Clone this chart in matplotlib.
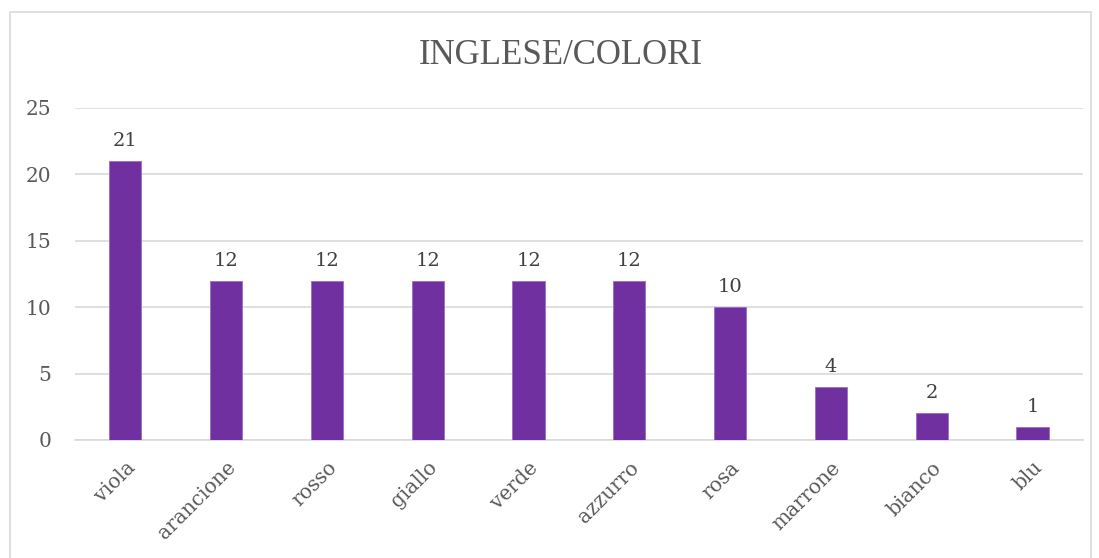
import matplotlib
matplotlib.use("Agg")
import matplotlib.pyplot as plt
from matplotlib.patches import Rectangle

colori = ["viola", "arancione", "rosso", "giallo", "verde",
          "azzurro", "rosa", "marrone", "bianco", "blu"]
valori = [21, 12, 12, 12, 12, 12, 10, 4, 2, 1]
y_ticks = [0, 5, 10, 15, 20, 25]

plt.rcParams['font.family'] = ['DejaVu Serif']

fig = plt.figure(figsize=(10.99, 5.58), dpi=100)
ax = fig.add_axes([0.0682, 0.2115, 0.9172, 0.595])

# chart border
fig.patches.append(Rectangle((0.009, -0.05), 0.984, 1.028, transform=fig.transFigure,
                             fill=False, edgecolor="#d9d9d9", linewidth=1.2))

x = range(len(colori))
ax.bar(x, valori, width=0.32, color="#7030a0", edgecolor="#9b6cc4", linewidth=0.6, zorder=3)

for i, v in enumerate(valori):
    ax.annotate(str(v), (i, v), xytext=(0, 8), textcoords="offset points",
                ha="center", va="bottom", fontsize=14, color="#404040")

ax.set_xlim(-0.5, len(colori) - 0.5)
ax.set_ylim(0, 25)
ax.set_yticks(y_ticks)
ax.yaxis.grid(True, color="#d9d9d9", linewidth=1.2, zorder=0)
for s in ["top", "right", "left"]:
    ax.spines[s].set_visible(False)
ax.spines["bottom"].set_color("#d9d9d9")
ax.spines["bottom"].set_linewidth(1.2)
ax.tick_params(axis="both", length=0, labelsize=14.5, labelcolor="#595959")
ax.tick_params(axis="y", pad=17)
ax.set_xticks(list(x))
ax.set_xticklabels(colori, rotation=45, ha="right", rotation_mode="anchor")
ax.tick_params(axis="x", pad=13)

fig.text(0.51, 0.9, "INGLESE/COLORI", ha="center", va="center",
         fontsize=25, color="#595959", family="Liberation Serif")

fig.savefig("out.png", dpi=100)
